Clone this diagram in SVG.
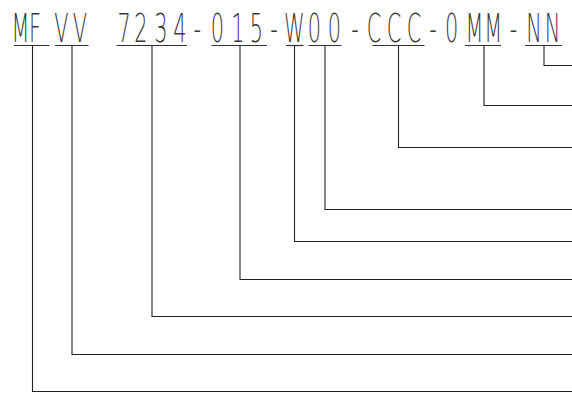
<svg xmlns="http://www.w3.org/2000/svg" width="572" height="395" viewBox="0 0 572 395">
<style>
.code{font-family:"DejaVu Sans","Liberation Sans",sans-serif;font-weight:200;font-size:39px;fill:#3a3a3a;text-anchor:middle}
.ul{stroke:#333;stroke-width:1.2;fill:none}
.ld{stroke:#222;stroke-width:1.1;fill:none}
</style>
<rect width="572" height="395" fill="#fff"/>
<g id="code-text">
<text class="code" transform="scale(0.535,1)" y="41.7" x="38.32 65.42 114.95 149.53 183.18 232.15 263.18 300.56 336.45 368.79 406.17 444.86 479.44 512.15 549.91 587.85 625.23 663.55 699.07 736.45 773.83 809.35 844.3 886.92 922.06 959.81 998.13 1032.71">MFVV 7234-015-W00-CCC-0MM-NN</text>
</g>
<g id="seg-MF"><line class="ul" x1="14" y1="45.5" x2="49.5" y2="45.5"/></g>
<g id="seg-VV"><line class="ul" x1="55" y1="45.5" x2="88.5" y2="45.5"/></g>
<g id="seg-7234"><line class="ul" x1="116.5" y1="45.5" x2="187" y2="45.5"/></g>
<g id="seg-015"><line class="ul" x1="211.5" y1="45.5" x2="267" y2="45.5"/></g>
<g id="seg-W"><line class="ul" x1="286" y1="45.5" x2="303.5" y2="45.5"/></g>
<g id="seg-00"><line class="ul" x1="308.5" y1="45.5" x2="341.5" y2="45.5"/></g>
<g id="seg-CCC"><line class="ul" x1="372.5" y1="45.5" x2="424.5" y2="45.5"/></g>
<g id="seg-MM"><line class="ul" x1="465" y1="45.5" x2="501" y2="45.5"/></g>
<g id="seg-NN"><line class="ul" x1="525" y1="45.5" x2="562" y2="45.5"/></g>
<g id="connectors">
<polyline class="ld" points="544,45.5 544,65.5 572,65.5"/>
<polyline class="ld" points="484,45.5 484,105.5 572,105.5"/>
<polyline class="ld" points="398.5,45.5 398.5,147.5 572,147.5"/>
<polyline class="ld" points="325,45.5 325,209.5 572,209.5"/>
<polyline class="ld" points="294.5,45.5 294.5,241.5 572,241.5"/>
<polyline class="ld" points="240,45.5 240,279.5 572,279.5"/>
<polyline class="ld" points="152,45.5 152,316.5 572,316.5"/>
<polyline class="ld" points="72,45.5 72,354.5 572,354.5"/>
<polyline class="ld" points="32.5,45.5 32.5,391.5 572,391.5"/>
</g>
</svg>
